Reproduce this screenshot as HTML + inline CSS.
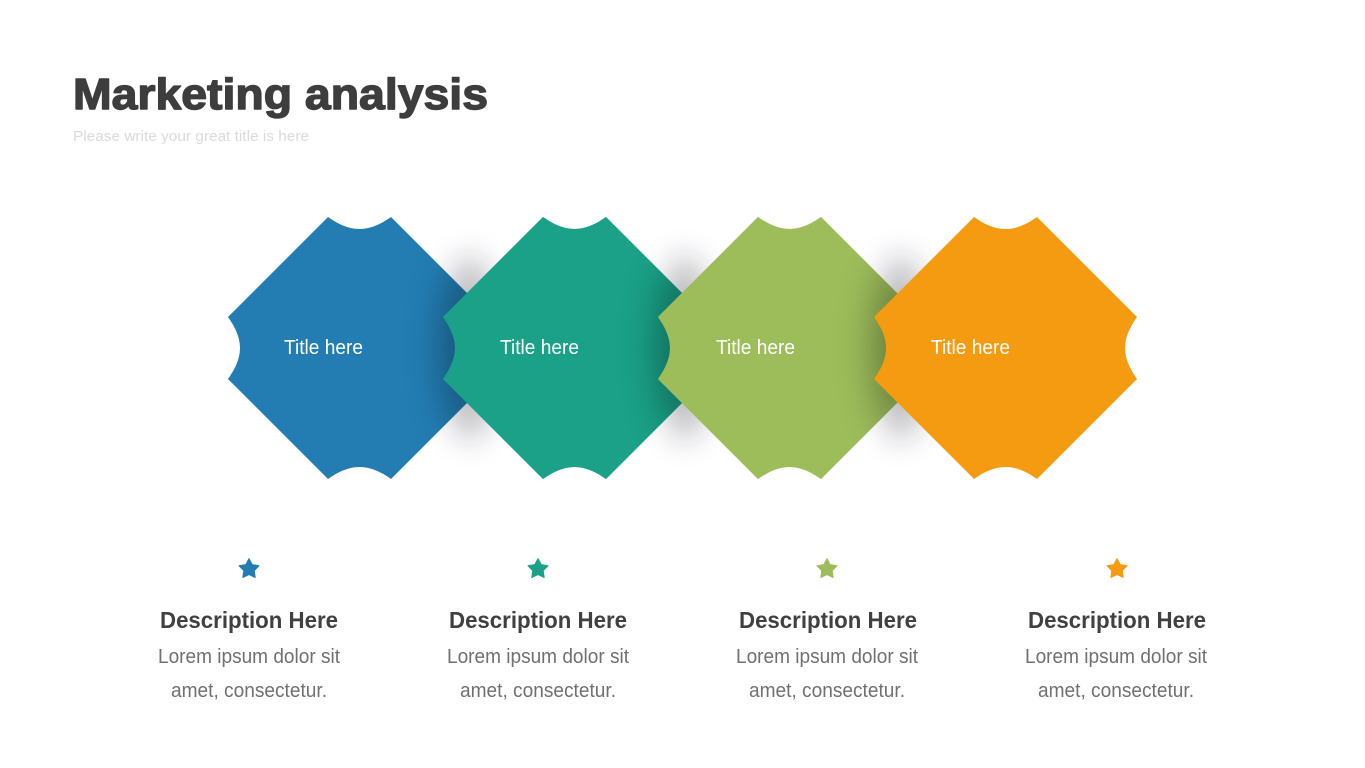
<!DOCTYPE html>
<html><head><meta charset="utf-8"><title>Marketing analysis</title>
<style>html,body{margin:0;padding:0;background:#fff}svg{display:block}
text{font-family:"Liberation Sans",sans-serif}</style></head>
<body>
<svg width="1365" height="768" viewBox="0 0 1365 768" xmlns="http://www.w3.org/2000/svg">
<defs>
<filter id="b" x="-200%" y="-60%" width="500%" height="220%"><feGaussianBlur stdDeviation="20"/></filter>
<filter id="o" x="-200%" y="-60%" width="500%" height="220%"><feGaussianBlur stdDeviation="16"/></filter>
<path id="s" d="M100 217C110 224 120 229 131.5 229S153 224 163 217L263 317C256 327 251 337 251 348S256 369 263 379L163 479C153 472 143 467 131.5 467S110 472 100 479L0 379C7 369 12 359 12 348S7 327 0 317Z"/>
<clipPath id="c1"><use href="#s" x="228"/></clipPath>
<clipPath id="c2"><use href="#s" x="443"/></clipPath>
<clipPath id="c3"><use href="#s" x="658"/></clipPath>
<polygon id="st" stroke-linejoin="round" points="0,-10.4 3.2,-4.4 10,-3.2 5.2,1.7 6.2,8.5 0,5.5 -6.2,8.5 -5.2,1.7 -10,-3.2 -3.2,-4.4"/>
</defs>
<rect width="1365" height="768" fill="#fff"/>
<text x="73" y="109" font-size="44" font-weight="700" fill="#3d3d3d" stroke="#3d3d3d" stroke-width="1.4" stroke-linejoin="round" textLength="415" lengthAdjust="spacingAndGlyphs">Marketing analysis</text>
<text x="73" y="141" font-size="15" fill="#dadada" textLength="236" lengthAdjust="spacingAndGlyphs">Please write your great title is here</text>

<ellipse cx="470" cy="348" rx="22" ry="92" fill="#1a1a2a" opacity=".36" filter="url(#o)"/>
<use href="#s" x="228" fill="#237DB3"/>
<g clip-path="url(#c1)"><ellipse cx="470" cy="348" rx="26" ry="88" fill="#000" opacity=".36" filter="url(#b)"/></g>
<use href="#s" x="443" fill="#1AA187"/>
<ellipse cx="685" cy="348" rx="22" ry="92" fill="#1a1a2a" opacity=".36" filter="url(#o)"/>
<use href="#s" x="443" fill="#1AA187"/>
<g clip-path="url(#c2)"><ellipse cx="685" cy="348" rx="26" ry="88" fill="#000" opacity=".36" filter="url(#b)"/></g>
<use href="#s" x="658" fill="#9DBD5B"/>
<ellipse cx="901" cy="348" rx="22" ry="92" fill="#1a1a2a" opacity=".36" filter="url(#o)"/>
<use href="#s" x="658" fill="#9DBD5B"/>
<g clip-path="url(#c3)"><ellipse cx="901" cy="348" rx="26" ry="88" fill="#000" opacity=".36" filter="url(#b)"/></g>
<use href="#s" x="874" fill="#F59B11"/>

<g font-size="20" fill="#fff">
<text x="284" y="354" textLength="79" lengthAdjust="spacingAndGlyphs">Title here</text>
<text x="500" y="354" textLength="79" lengthAdjust="spacingAndGlyphs">Title here</text>
<text x="716" y="354" textLength="79" lengthAdjust="spacingAndGlyphs">Title here</text>
<text x="931" y="354" textLength="79" lengthAdjust="spacingAndGlyphs">Title here</text>
</g>

<g stroke-width="1">
<use href="#st" x="249" y="569" fill="#237DB3" stroke="#237DB3"/>
<use href="#st" x="538" y="569" fill="#1AA187" stroke="#1AA187"/>
<use href="#st" x="827" y="569" fill="#9DBD5B" stroke="#9DBD5B"/>
<use href="#st" x="1117" y="569" fill="#F59B11" stroke="#F59B11"/>
</g>

<g font-size="23" font-weight="700" fill="#404040">
<text x="160" y="628" textLength="178" lengthAdjust="spacingAndGlyphs">Description Here</text>
<text x="449" y="628" textLength="178" lengthAdjust="spacingAndGlyphs">Description Here</text>
<text x="739" y="628" textLength="178" lengthAdjust="spacingAndGlyphs">Description Here</text>
<text x="1028" y="628" textLength="178" lengthAdjust="spacingAndGlyphs">Description Here</text>
</g>
<g font-size="20" fill="#707070">
<text x="158" y="663" textLength="182" lengthAdjust="spacingAndGlyphs">Lorem ipsum dolor sit</text>
<text x="447" y="663" textLength="182" lengthAdjust="spacingAndGlyphs">Lorem ipsum dolor sit</text>
<text x="736" y="663" textLength="182" lengthAdjust="spacingAndGlyphs">Lorem ipsum dolor sit</text>
<text x="1025" y="663" textLength="182" lengthAdjust="spacingAndGlyphs">Lorem ipsum dolor sit</text>
<text x="171" y="697" textLength="156" lengthAdjust="spacingAndGlyphs">amet, consectetur.</text>
<text x="460" y="697" textLength="156" lengthAdjust="spacingAndGlyphs">amet, consectetur.</text>
<text x="749" y="697" textLength="156" lengthAdjust="spacingAndGlyphs">amet, consectetur.</text>
<text x="1038" y="697" textLength="156" lengthAdjust="spacingAndGlyphs">amet, consectetur.</text>
</g>
</svg>
</body></html>
